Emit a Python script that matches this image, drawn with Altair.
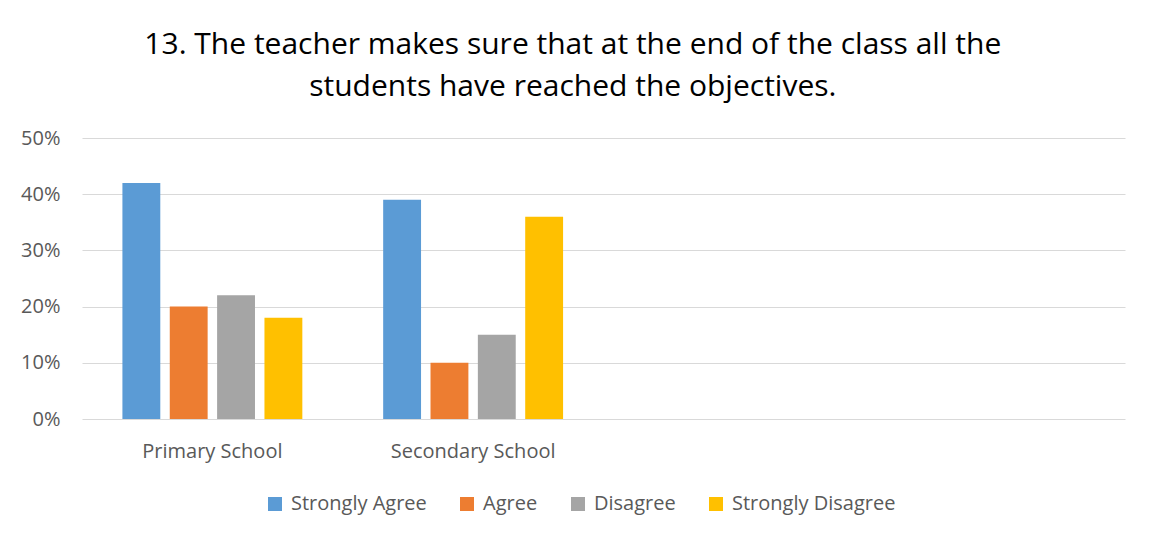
import altair as alt
import pandas as pd

groups = ["Primary School", "Secondary School"]
series = ["Strongly Agree", "Agree", "Disagree", "Strongly Disagree"]
primary = [0.42, 0.20, 0.22, 0.18]
secondary = [0.39, 0.10, 0.15, 0.36]
colors = ["#5b9bd5", "#ed7d31", "#a5a5a5", "#ffc000"]
x_domain = groups + [" ", "  "]
y_ticks = [0, 0.1, 0.2, 0.3, 0.4, 0.5]
title_lines = [
    "13. The teacher makes sure that at the end of the class all the",
    "students have reached the objectives.",
]

rows = []
for g, vals in zip(groups, [primary, secondary]):
    for s, v in zip(series, vals):
        rows.append({"group": g, "series": s, "value": v})
df = pd.DataFrame(rows)

FONT = "Open Sans"
GRAY = "#595959"
FS = 20

chart = alt.Chart(df).mark_bar().encode(
    x=alt.X(
        "group:N",
        scale=alt.Scale(domain=x_domain, paddingInner=0.31, paddingOuter=0.155),
        axis=alt.Axis(title=None, labelAngle=0, ticks=False, domain=False,
                      labelPadding=22, labelFontSize=FS, labelColor=GRAY,
                      labelFont=FONT, grid=False),
    ),
    xOffset=alt.XOffset("series:N", sort=series,
                        scale=alt.Scale(domain=series, paddingInner=0.2, paddingOuter=0)),
    y=alt.Y(
        "value:Q",
        scale=alt.Scale(domain=[0, 0.5]),
        axis=alt.Axis(values=y_ticks, format=".0%", title=None, ticks=False,
                      domain=False, labelPadding=22, labelFontSize=FS,
                      labelColor=GRAY, labelFont=FONT, gridColor="#d9d9d9",
                      gridWidth=1),
    ),
    color=alt.Color(
        "series:N",
        sort=series,
        scale=alt.Scale(domain=series, range=colors),
        legend=alt.Legend(title=None, orient="none", legendX=183, legendY=356,
                          direction="horizontal", symbolType="square",
                          symbolSize=196, symbolStrokeWidth=0,
                          labelFontSize=FS, labelColor=GRAY, labelFont=FONT,
                          labelLimit=400, labelOffset=6, columnPadding=30),
    ),
).properties(
    width=1043,
    height=281,
    padding={"left": 12, "top": 22, "right": 10, "bottom": 10},
    title=alt.TitleParams(title_lines, fontSize=30, font=FONT, color="#000000",
                          fontWeight="normal", lineHeight=42, anchor="middle",
                          frame="bounds", offset=26),
).configure_view(stroke=None)

chart.save("out.html", embed_options={"renderer": "svg", "actions": False})
